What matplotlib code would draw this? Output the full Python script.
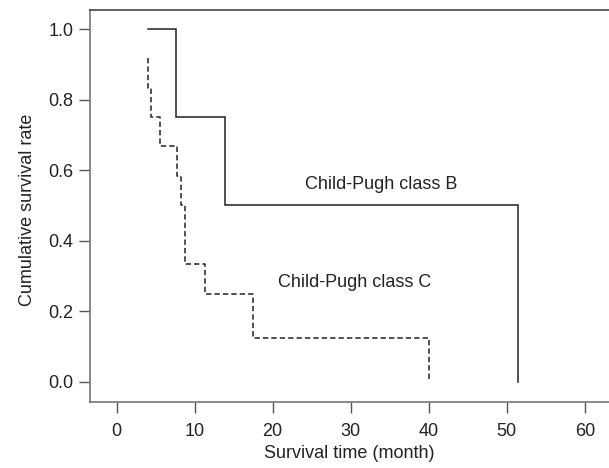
import matplotlib
matplotlib.use("Agg")
import matplotlib.pyplot as plt

plt.rcParams['font.family'] = ['Liberation Sans Narrow', 'Liberation Sans', 'DejaVu Sans']

# Kaplan-Meier steps, Child-Pugh class B
b_time = [4.0, 7.6, 7.6, 13.9, 13.9, 51.5, 51.5]
b_surv = [1.0, 1.0, 0.75, 0.75, 0.5, 0.5, 0.0]

# Kaplan-Meier steps, Child-Pugh class C
c_time = [4.0, 4.0, 4.4, 4.4, 5.6, 5.6, 7.7, 7.7, 8.2, 8.2, 8.8, 8.8,
          11.3, 11.3, 17.5, 17.5, 40.0, 40.0]
c_surv = [0.917, 0.833, 0.833, 0.75, 0.75, 0.667, 0.667, 0.583, 0.583, 0.5,
          0.5, 0.333, 0.333, 0.25, 0.25, 0.125, 0.125, 0.0]

x_ticks = [0, 10, 20, 30, 40, 50, 60]
y_ticks = [0.0, 0.2, 0.4, 0.6, 0.8, 1.0]

fig = plt.figure(figsize=(6.09, 4.68), dpi=100)
ax = fig.add_axes([0.1478, 0.141, 0.8522, 0.8376])

ax.plot(b_time, b_surv, color="#222222", lw=1.1, solid_joinstyle="miter")
ax.plot(c_time, c_surv, color="#222222", lw=1.1, linestyle=(0, (3.5, 2)))

ax.text(24.2, 0.56, "Child-Pugh class B", fontsize=13, va="center", color="#222222")
ax.text(20.7, 0.28, "Child-Pugh class C", fontsize=13, va="center", color="#222222")

ax.set_xlim(-3.4, 63.1)
ax.set_ylim(-0.0575, 1.054)
ax.set_xticks(x_ticks)
ax.set_yticks(y_ticks)
ax.set_yticklabels([f"{v:.1f}" for v in y_ticks])

for side in ("left", "bottom", "top"):
    ax.spines[side].set_color("#777777")
    ax.spines[side].set_linewidth(1.2)
ax.spines["top"].set_color("#444444")
ax.spines["right"].set_visible(False)

ax.tick_params(axis="both", direction="out", length=8, width=1, color="#555555",
               labelsize=13, labelcolor="#222222")
ax.tick_params(axis="x", pad=7)
ax.tick_params(axis="y", pad=4)

ax.set_xlabel("Survival time (month)", fontsize=13, color="#222222", labelpad=4)
ax.set_ylabel("Cumulative survival rate", fontsize=13, color="#222222", labelpad=9)
ax.yaxis.label.set_y(0.49)

fig.savefig("out.png", dpi=100)
